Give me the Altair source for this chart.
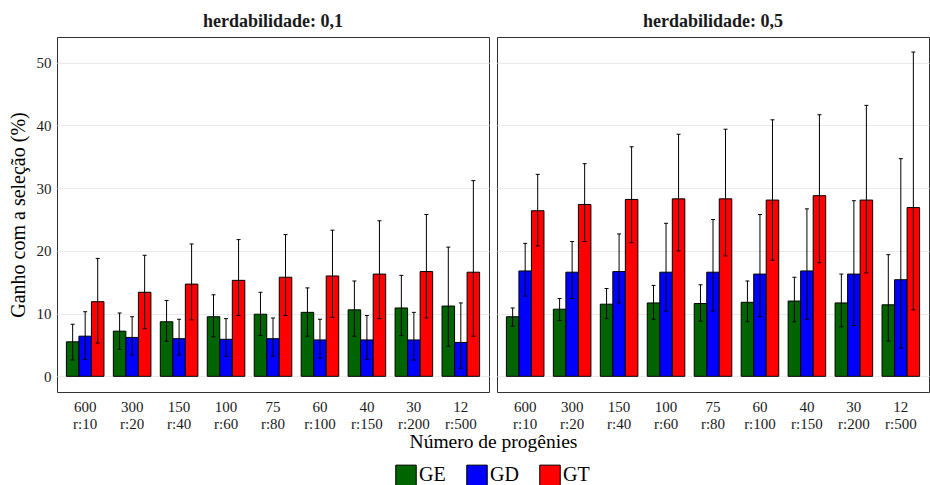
import altair as alt
import pandas as pd

# Progeny sizes (number of progenies / individuals per progeny)
progenies = ["600\nr:10", "300\nr:20", "150\nr:40", "100\nr:60", "75\nr:80",
             "60\nr:100", "40\nr:150", "30\nr:200", "12\nr:500"]
methods = ["GE", "GD", "GT"]
colors = ["#006400", "#0000FF", "#FF0000"]
panels = ["herdabilidade: 0,1", "herdabilidade: 0,5"]

# Mean gain (%) and interval limits, heritability 0.1
h1_ge = [5.5, 7.2, 8.7, 9.5, 9.9, 10.2, 10.6, 10.9, 11.2]
h1_ge_lo = [2.6, 4.3, 5.6, 6.3, 6.5, 6.4, 6.4, 6.5, 4.8]
h1_ge_hi = [8.3, 10.1, 12.1, 13.0, 13.4, 14.1, 15.2, 16.1, 20.6]
h1_gd = [6.4, 6.2, 6.0, 5.9, 6.0, 5.8, 5.8, 5.8, 5.4]
h1_gd_lo = [2.7, 3.4, 3.4, 3.2, 3.2, 2.9, 2.7, 2.6, 1.3]
h1_gd_hi = [10.3, 9.5, 9.1, 9.2, 9.3, 9.1, 9.7, 10.2, 11.7]
h1_gt = [11.9, 13.4, 14.7, 15.3, 15.8, 16.0, 16.3, 16.7, 16.6]
h1_gt_lo = [5.3, 7.6, 9.0, 9.7, 9.7, 9.4, 9.2, 9.3, 6.4]
h1_gt_hi = [18.8, 19.3, 21.1, 21.8, 22.6, 23.3, 24.8, 25.8, 31.2]

# Mean gain (%) and interval limits, heritability 0.5
h5_ge = [9.5, 10.7, 11.5, 11.7, 11.6, 11.8, 12.0, 11.7, 11.4]
h5_ge_lo = [8.0, 8.9, 9.2, 9.1, 8.8, 8.7, 8.7, 7.9, 5.6]
h5_ge_hi = [10.9, 12.4, 14.0, 14.5, 14.6, 15.2, 15.8, 16.3, 19.4]
h5_gd = [16.8, 16.6, 16.7, 16.6, 16.6, 16.3, 16.8, 16.3, 15.4]
h5_gd_lo = [12.8, 12.4, 11.7, 10.4, 10.4, 9.5, 9.1, 8.1, 4.5]
h5_gd_hi = [21.2, 21.5, 22.7, 24.4, 25.0, 25.8, 26.7, 28.0, 34.7]
h5_gt = [26.4, 27.4, 28.2, 28.3, 28.3, 28.1, 28.8, 28.1, 26.9]
h5_gt_lo = [20.8, 21.5, 21.3, 20.0, 19.2, 18.5, 18.1, 16.5, 10.6]
h5_gt_hi = [32.2, 33.9, 36.6, 38.6, 39.4, 40.9, 41.7, 43.2, 51.7]

series = {
    (panels[0], "GE"): (h1_ge, h1_ge_lo, h1_ge_hi),
    (panels[0], "GD"): (h1_gd, h1_gd_lo, h1_gd_hi),
    (panels[0], "GT"): (h1_gt, h1_gt_lo, h1_gt_hi),
    (panels[1], "GE"): (h5_ge, h5_ge_lo, h5_ge_hi),
    (panels[1], "GD"): (h5_gd, h5_gd_lo, h5_gd_hi),
    (panels[1], "GT"): (h5_gt, h5_gt_lo, h5_gt_hi),
}

rows = []
for (panel, method), (mean, lo, hi) in series.items():
    for prog, m, l, h in zip(progenies, mean, lo, hi):
        rows.append({"herd": panel, "prog": prog, "metodo": method,
                     "ganho": m, "lo": l, "hi": h})
df = pd.DataFrame(rows)

FONT = "Liberation Serif"
PANEL_W = 432
PANEL_H = 355
GAP = 8

off_enc = alt.XOffset("metodo:N", sort=methods)
y_scale = alt.Scale(domain=[-2.5, 54.1], nice=False, zero=False)
color_enc = alt.Color(
    "metodo:N", sort=methods,
    scale=alt.Scale(domain=methods, range=colors),
    legend=alt.Legend(title=None, orient="none", direction="horizontal",
                      legendX=338, legendY=427,
                      symbolType="square", symbolSize=420,
                      symbolStrokeColor="black", symbolStrokeWidth=1,
                      symbolOpacity=1, labelFontSize=20, labelOffset=2,
                      columnPadding=18),
)


def panel(name, first):
    """One heritability panel: dodged bars with interval whiskers."""
    x_axis = alt.Axis(
        labelAngle=0, labelExpr="split(datum.label, '\\n')",
        labelLineHeight=17, labelFontSize=15, labelPadding=7,
        ticks=False, domain=False, grid=False,
        titleFontSize=19.5, titleFontWeight="normal", titlePadding=1,
        titleX=(2 * PANEL_W + GAP) / 2,
    )
    x_enc = alt.X("prog:N", sort=progenies,
                  title="Número de progênies" if first else None,
                  scale=alt.Scale(paddingInner=0.2, paddingOuter=0.2),
                  axis=x_axis)
    if first:
        y_axis = alt.Axis(values=[0, 10, 20, 30, 40, 50], ticks=False,
                          domain=False, labelFontSize=15, labelPadding=6,
                          titleFontSize=20, titlePadding=8,
                          titleFontWeight="normal", gridColor="#EBEBEB")
        y_title = "Ganho com a seleção (%)"
    else:
        y_axis = alt.Axis(values=[0, 10, 20, 30, 40, 50], ticks=False,
                          domain=False, labels=False, minExtent=0,
                          maxExtent=0, gridColor="#EBEBEB")
        y_title = None

    base = alt.Chart(df).transform_filter(alt.datum.herd == name)

    bars = base.mark_bar(stroke="black", strokeWidth=1).encode(
        x=x_enc, xOffset=off_enc,
        y=alt.Y("ganho:Q", scale=y_scale, title=y_title, axis=y_axis),
        y2=alt.datum(0),
        color=color_enc,
    )
    whisker = base.mark_rule(color="black", strokeWidth=1).encode(
        x=alt.X("prog:N", sort=progenies), xOffset=off_enc,
        y=alt.Y("lo:Q", scale=y_scale), y2="hi:Q",
    )
    cap_lo = base.mark_tick(color="black", thickness=1, size=4,
                            orient="horizontal", opacity=1).encode(
        x=alt.X("prog:N", sort=progenies), xOffset=off_enc,
        y=alt.Y("lo:Q", scale=y_scale),
    )
    cap_hi = base.mark_tick(color="black", thickness=1, size=4,
                            orient="horizontal", opacity=1).encode(
        x=alt.X("prog:N", sort=progenies), xOffset=off_enc,
        y=alt.Y("hi:Q", scale=y_scale),
    )
    return alt.layer(bars, whisker, cap_lo, cap_hi).properties(
        width=PANEL_W, height=PANEL_H,
        title=alt.TitleParams(name, fontSize=18, fontWeight="bold",
                              color="#1a1a1a", anchor="middle", offset=6,
                              font=FONT),
    )


chart = alt.hconcat(panel(panels[0], True), panel(panels[1], False),
                    spacing=GAP, bounds="flush").configure(
    font=FONT,
    padding={"left": 7, "top": 12, "right": 0, "bottom": 0},
).configure_view(
    stroke="#333333", strokeWidth=1
).configure_axis(
    labelColor="#1a1a1a", titleColor="black", labelFont=FONT, titleFont=FONT
).configure_legend(
    labelFont=FONT, labelColor="black"
)

chart.save("out.html", embed_options={"renderer": "svg", "actions": False})
